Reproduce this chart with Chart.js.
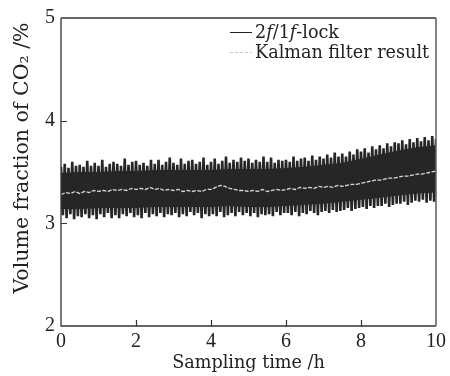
<!DOCTYPE html>
<html><head><meta charset="utf-8">
<script src="https://cdn.jsdelivr.net/npm/chart.js@4.4.1/dist/chart.umd.min.js"></script>
<style>html,body{margin:0;padding:0;background:#fff}#wrap{width:450px;height:376px;position:relative}</style>
</head><body><div id="wrap"><canvas id="c" width="450" height="376"></canvas></div>
<script>
// Sampling interval of the raw trace (h), of the filter trace (h) and of the band body (h)
const rawStep = 0.05;
const kalmanStep = 0.125;
const bodyStep = 0.5;

// Raw 2f/1f-lock signal extremes (volume fraction, %) (each row = 0.5 h)
const rawSignal = [
  3.55,3.08,3.58,3.05,3.54,3.09,3.60,3.04,3.56,3.07,
  3.57,3.06,3.55,3.09,3.61,3.05,3.56,3.08,3.59,3.04,
  3.56,3.09,3.62,3.06,3.55,3.10,3.58,3.05,3.60,3.08,
  3.58,3.05,3.56,3.09,3.63,3.07,3.57,3.10,3.60,3.06,
  3.61,3.08,3.57,3.05,3.59,3.10,3.56,3.06,3.62,3.09,
  3.58,3.07,3.62,3.10,3.57,3.06,3.60,3.09,3.64,3.08,
  3.59,3.10,3.57,3.06,3.63,3.09,3.58,3.07,3.61,3.11,
  3.62,3.08,3.58,3.10,3.60,3.05,3.64,3.09,3.57,3.07,
  3.60,3.09,3.63,3.07,3.58,3.11,3.61,3.06,3.65,3.08,
  3.59,3.10,3.62,3.07,3.60,3.11,3.64,3.08,3.61,3.10,
  3.63,3.07,3.59,3.10,3.62,3.06,3.60,3.09,3.65,3.08,
  3.60,3.09,3.64,3.07,3.59,3.11,3.62,3.08,3.61,3.10,
  3.62,3.10,3.60,3.08,3.65,3.11,3.61,3.07,3.63,3.10,
  3.64,3.09,3.61,3.12,3.66,3.10,3.62,3.08,3.65,3.11,
  3.63,3.12,3.67,3.10,3.64,3.13,3.69,3.11,3.65,3.12,
  3.68,3.13,3.65,3.15,3.70,3.12,3.67,3.14,3.72,3.15,
  3.70,3.16,3.73,3.14,3.69,3.17,3.75,3.15,3.72,3.17,
  3.76,3.17,3.73,3.19,3.78,3.16,3.75,3.18,3.79,3.19,
  3.78,3.19,3.81,3.21,3.77,3.18,3.82,3.20,3.79,3.22,
  3.83,3.21,3.80,3.23,3.84,3.20,3.81,3.22,3.85,3.21,
  3.82
];

// Dense body of the raw trace (upper / lower edge, %), every 0.5 h
const bodyUpper = [3.49,3.50,3.50,3.51,3.51,3.52,3.52,3.52,3.52,3.53,3.53,3.53,3.54,3.55,3.57,3.59,3.63,3.67,3.71,3.74,3.76];
const bodyLower = [3.14,3.14,3.15,3.15,3.15,3.16,3.16,3.16,3.16,3.17,3.16,3.16,3.17,3.18,3.19,3.21,3.23,3.25,3.27,3.29,3.30];

// Kalman filter result (volume fraction, %), every 0.125 h
const kalmanResult = [
  3.28,3.30,3.29,3.31,3.29,3.31,3.30,3.32,
  3.31,3.32,3.31,3.33,3.32,3.33,3.32,3.34,
  3.33,3.34,3.33,3.35,3.33,3.34,3.32,3.33,
  3.32,3.33,3.31,3.32,3.31,3.32,3.31,3.33,
  3.33,3.35,3.37,3.36,3.34,3.33,3.32,3.32,
  3.31,3.32,3.31,3.33,3.31,3.32,3.33,3.32,
  3.33,3.34,3.33,3.35,3.34,3.35,3.34,3.36,
  3.35,3.36,3.35,3.37,3.36,3.37,3.38,3.38,
  3.39,3.40,3.41,3.42,3.42,3.43,3.44,3.44,
  3.45,3.46,3.46,3.47,3.48,3.48,3.49,3.50,
  3.51
];

const xTicks = [0, 2, 4, 6, 8, 10];
const yTicks = [2, 3, 4, 5];
const seriesNames = ['2f/1f-lock', 'Kalman filter result'];
const xTitle = 'Sampling time /h';
const yTitle = 'Volume fraction of CO\u2082 /%';

const toPoints = (arr, step) => arr.map((v, i) => ({x: +(i * step).toFixed(3), y: v}));

const SERIF = '"DejaVu Serif", "Liberation Serif", serif';
const NUMF = '"Liberation Serif", "DejaVu Serif", serif';
const DARK = '#262626';

const framePlugin = {
  id: 'frame',
  afterDatasetsDraw(chart) {
    const {ctx, chartArea: a, scales: {x, y}} = chart;
    ctx.save();
    ctx.strokeStyle = '#333';
    ctx.lineWidth = 1.3;
    ctx.beginPath();
    ctx.moveTo(a.left, a.top); ctx.lineTo(a.right, a.top);
    ctx.moveTo(a.left, a.top); ctx.lineTo(a.left, a.bottom); ctx.lineTo(a.right, a.bottom);
    ctx.stroke();
    ctx.strokeStyle = '#666';
    ctx.lineWidth = 1.6;
    ctx.beginPath();
    ctx.moveTo(a.right, a.top); ctx.lineTo(a.right, a.bottom);
    ctx.stroke();
    ctx.strokeStyle = '#333';
    ctx.lineWidth = 1.2;
    ctx.beginPath();
    xTicks.slice(1, -1).forEach(v => {
      const px = Math.round(x.getPixelForValue(v)) + 0.5;
      ctx.moveTo(px, a.bottom); ctx.lineTo(px, a.bottom - 6);
    });
    yTicks.slice(1, -1).forEach(v => {
      const py = Math.round(y.getPixelForValue(v)) + 0.5;
      ctx.moveTo(a.left, py); ctx.lineTo(a.left + 6, py);
    });
    ctx.stroke();
    ctx.restore();
  },
  afterDraw(chart) {
    const {ctx} = chart;
    const ds = chart.data.datasets.filter(d => d.inLegend);
    ctx.save();
    const lx0 = 230, lx1 = 252, tx = 255;
    const rows = [32, 52];
    ds.forEach((d, i) => {
      ctx.strokeStyle = d.legendColor || d.borderColor;
      ctx.lineWidth = 1;
      ctx.setLineDash(d.legendDash || []);
      ctx.beginPath();
      ctx.moveTo(lx0, rows[i] + 0.5); ctx.lineTo(lx1, rows[i] + 0.5);
      ctx.stroke();
    });
    ctx.setLineDash([]);
    ctx.fillStyle = '#222';
    ctx.textBaseline = 'alphabetic';
    ctx.textAlign = 'left';
    const base = '17.6px ' + SERIF, ital = 'italic 17.6px ' + SERIF;
    const parts = [['2', base], ['f', ital], ['/1', base], ['f', ital], ['-lock', base]];
    let cx = tx;
    parts.forEach(([t, f]) => { ctx.font = f; ctx.fillText(t, cx, rows[0] + 6); cx += ctx.measureText(t).width; });
    ctx.font = base;
    ctx.fillText(ds[1].label, tx, rows[1] + 6);
    ctx.translate(23, 158);
    ctx.rotate(-Math.PI / 2);
    ctx.textAlign = 'center';
    ctx.textBaseline = 'middle';
    ctx.font = '20.5px ' + SERIF;
    ctx.fillText(yTitle, 0, 0);
    ctx.restore();
  }
};

new Chart(document.getElementById('c'), {
  type: 'line',
  data: {
    datasets: [
      {
        label: 'body upper',
        data: toPoints(bodyUpper, bodyStep),
        borderWidth: 0, borderColor: DARK, backgroundColor: DARK,
        pointRadius: 0, fill: '+1', order: 4
      },
      {
        label: 'body lower',
        data: toPoints(bodyLower, bodyStep),
        borderWidth: 0, borderColor: DARK,
        pointRadius: 0, fill: false, order: 4
      },
      {
        label: seriesNames[0],
        inLegend: true,
        data: toPoints(rawSignal, rawStep),
        borderColor: DARK,
        legendColor: '#222',
        borderWidth: 2.6,
        borderJoinStyle: 'bevel',
        pointRadius: 0,
        tension: 0,
        fill: false,
        order: 2
      },
      {
        label: seriesNames[1],
        inLegend: true,
        data: toPoints(kalmanResult, kalmanStep),
        borderColor: '#d8d8d8',
        legendColor: '#c4c4c4',
        legendDash: [3, 2],
        borderWidth: 1.3,
        borderDash: [4, 1.5],
        pointRadius: 0,
        tension: 0,
        fill: false,
        order: 1
      }
    ]
  },
  options: {
    responsive: false,
    devicePixelRatio: 1,
    animation: false,
    layout: {padding: {left: 0, right: 12, top: 17, bottom: 0}},
    plugins: {legend: {display: false}, tooltip: {enabled: false}, filler: {propagate: false}},
    scales: {
      x: {
        type: 'linear', min: 0, max: 10,
        afterFit: s => { s.height = 50; },
        afterBuildTicks: s => { s.ticks = xTicks.map(v => ({value: v})); },
        grid: {display: false, drawTicks: false},
        border: {display: false},
        ticks: {padding: 4, color: '#222', font: {family: NUMF, size: 20}, maxRotation: 0},
        title: {display: true, text: xTitle, color: '#222', font: {family: SERIF, size: 17.6}, padding: {top: 0, bottom: 2}}
      },
      y: {
        type: 'linear', min: 2, max: 5,
        afterFit: s => { s.width = 61; },
        afterBuildTicks: s => { s.ticks = yTicks.map(v => ({value: v})); },
        grid: {display: false, drawTicks: false},
        border: {display: false},
        ticks: {padding: 6, color: '#222', font: {family: NUMF, size: 20}},
        title: {display: false}
      }
    }
  },
  plugins: [framePlugin]
});
</script>
</body></html>
